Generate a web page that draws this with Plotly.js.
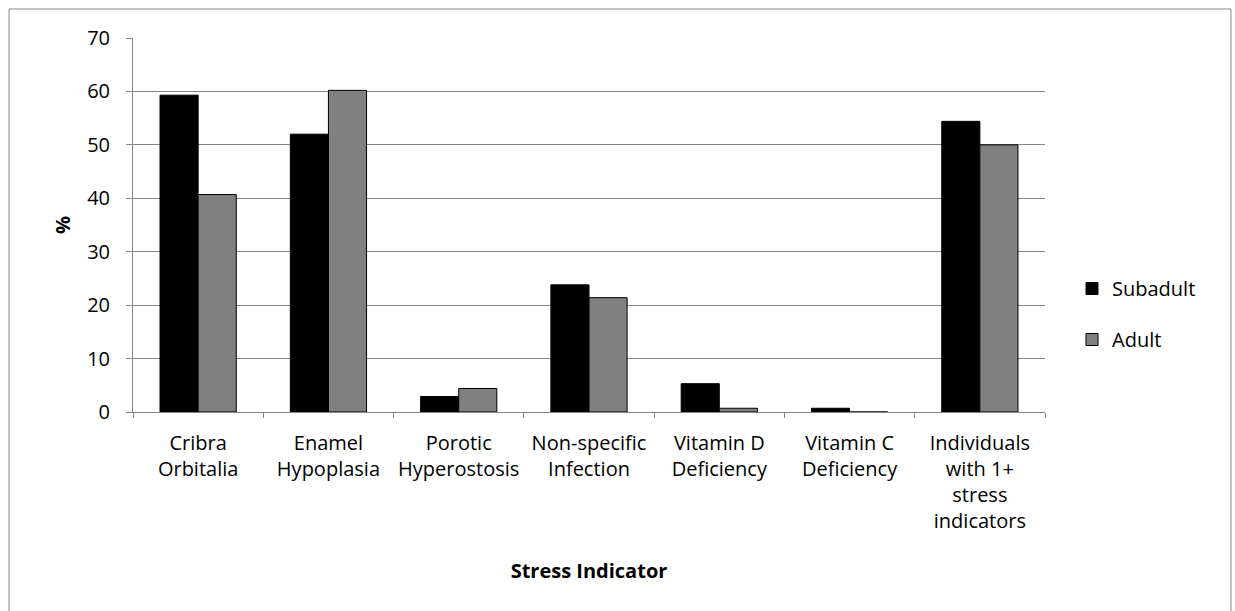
<!DOCTYPE html>
<html>
<head>
<meta charset="utf-8">
<script src="https://cdn.plot.ly/plotly-3.0.1.min.js"></script>
<style>
html,body{margin:0;padding:0;background:#fff;}
#chart{width:1235px;height:611px;}
</style>
</head>
<body>
<div id="chart"></div>
<script>
var categories = [
  "Cribra<br>Orbitalia",
  "Enamel<br>Hypoplasia",
  "Porotic<br>Hyperostosis",
  "Non-specific<br>Infection",
  "Vitamin D<br>Deficiency",
  "Vitamin C<br>Deficiency",
  "Individuals<br>with 1+<br>stress<br>indicators"
];
var subadult = [59.3, 52.0, 2.9, 23.8, 5.3, 0.7, 54.4];
var adult = [40.7, 60.2, 4.4, 21.4, 0.7, 0, 50.0];
var seriesNames = ["Subadult", "Adult"];
var yTicks = [0, 10, 20, 30, 40, 50, 60, 70];

var FONT = "Open Sans, Noto Sans, sans-serif";
var W = 1235, H = 611;
var L = 133, R = 1045, T = 38, B = 412;
var pw = R - L, ph = B - T;
function px(x){ return (x - L) / pw; }
function py(y){ return (B - y) / ph; }

var traces = [
  {type: "bar", name: seriesNames[0], x: categories, y: subadult,
   marker: {color: "#000000", line: {color: "#000000", width: 1}},
   legendgroup: "a"},
  {type: "bar", name: seriesNames[1], x: categories, y: adult,
   marker: {color: "#808080", line: {color: "#000000", width: 1}},
   legendgroup: "b"}
];

var layout = {
  width: W, height: H,
  margin: {l: L, r: W - R, t: T, b: H - B, pad: 0},
  paper_bgcolor: "#ffffff", plot_bgcolor: "#ffffff",
  font: {family: FONT, size: 20, color: "#000"},
  barmode: "group", bargap: 0.415, bargroupgap: 0,
  showlegend: true,
  legend: {x: px(1072), y: py(314), xanchor: "left", yanchor: "middle",
           font: {family: FONT, size: 20, color: "#000"},
           traceorder: "grouped", tracegroupgap: 22, itemwidth: 30,
           bgcolor: "rgba(0,0,0,0)"},
  xaxis: {
    type: "category", tickson: "boundaries", ticks: "outside", ticklen: 5,
    tickcolor: "#868686", showline: true, linecolor: "#868686", linewidth: 1,
    showgrid: false, tickangle: 0, ticklabelstandoff: 13,
    tickfont: {family: FONT, size: 20, color: "#000"},
    title: {text: "<b>Stress Indicator</b>", font: {family: FONT, size: 20, color: "#000"}, standoff: 30},
    automargin: false, fixedrange: true
  },
  yaxis: {
    range: [0, 70], tickvals: yTicks, ticks: "outside", ticklen: 6,
    tickcolor: "#868686", showline: true, linecolor: "#868686", linewidth: 1,
    showgrid: true, gridcolor: "#868686", gridwidth: 1, zeroline: false,
    ticklabelstandoff: 12,
    tickfont: {family: FONT, size: 20, color: "#000"},
    title: {text: "<b>%</b>", font: {family: FONT, size: 20, color: "#000"}, standoff: 11},
    automargin: false, fixedrange: true
  },
  shapes: [
    {type: "rect", xref: "paper", yref: "paper",
     x0: px(9), x1: px(1231), y0: py(620), y1: py(9),
     line: {color: "#868686", width: 1}, fillcolor: "rgba(0,0,0,0)", layer: "below"}
  ]
};

Plotly.newPlot("chart", traces, layout, {staticPlot: true, displayModeBar: false});
</script>
</body>
</html>
